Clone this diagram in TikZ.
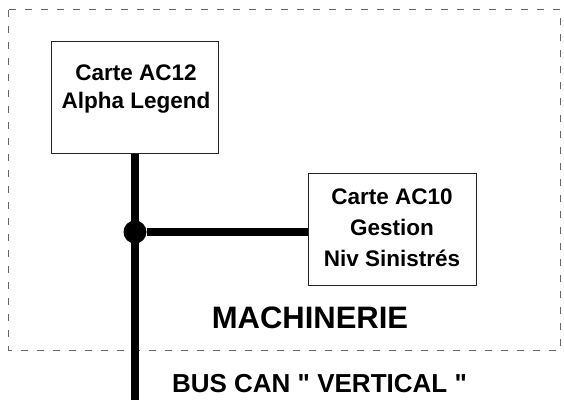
\documentclass[tikz,border=0pt]{standalone}
\usepackage{fontspec}
\setmainfont{Liberation Sans}
\begin{document}
\begin{tikzpicture}[x=1pt,y=-1pt]
    \tikzset{
        carte/.style={draw=black!85,line width=1pt,fill=white,inner sep=0pt},
        cartetxt/.style={align=center,inner sep=0pt,font=\bfseries\fontsize{22.5}{28}\selectfont},
        bus/.style={line width=8pt}
    }
    \useasboundingbox (0,0) rectangle (564,409);

    % zone machinerie
    \draw[black!60,line width=1pt,dash pattern=on 7pt off 9pt] (8.5,10) rectangle (560,350);

    \node[carte,minimum width=167pt,minimum height=111pt] (ac12) at (134.5,97.5) {};
    \node[carte,minimum width=168pt,minimum height=112pt] (ac10) at (392,229) {};

    \node[cartetxt,anchor=base] (ac12txt) at (136,108) {Carte AC12\\Alpha Legend};
    \node[cartetxt,anchor=base,font=\bfseries\fontsize{22.5}{31}\selectfont] (ac10txt) at (392,266) {Carte AC10\\Gestion\\Niv Sinistrés};

    % bus CAN
    \coordinate (busend) at (135,400);
    \node[circle,fill,inner sep=0pt,minimum size=23pt] (jonction) at (135,232) {};
    \draw[bus] (ac12.south -| busend) -- (busend);
    \draw[bus] (jonction) -- (jonction -| ac10.west);

    \node[font=\bfseries\fontsize{31}{37}\selectfont,anchor=base,inner sep=0pt] (machinerie) at (310,328) {MACHINERIE};
    \node[font=\bfseries\fontsize{26}{31}\selectfont,anchor=base,inner sep=0pt] (bustxt) at (319.5,392) {BUS CAN \textquotedbl{} VERTICAL \textquotedbl};
\end{tikzpicture}
\end{document}
